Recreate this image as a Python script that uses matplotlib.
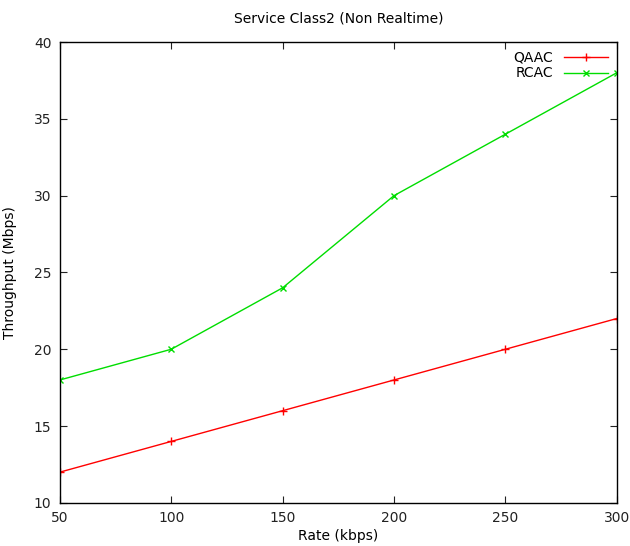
import matplotlib
matplotlib.use("Agg")
import matplotlib.pyplot as plt

# throughput vs rate for the two admission control schemes
rate = [50, 100, 150, 200, 250, 300]
qaac = [12, 14, 16, 18, 20, 22]
rcac = [18, 20, 24, 30, 34, 38]

plt.rcParams['font.family'] = ['DejaVu Sans']
plt.rcParams['font.size'] = 10

fig = plt.figure(figsize=(6.3, 5.46), dpi=100)
ax = fig.add_axes([0.095, 0.079, 0.884, 0.844])

ax.plot(rate, qaac, '-', color='#ff0000', lw=1, marker='+', ms=6, mew=1, label='QAAC')
ax.plot(rate, rcac, '-', color='#00dd00', lw=1, marker='x', ms=5, mew=1, label='RCAC')

ax.set_xlim(50, 300)
ax.set_ylim(10, 40)
ax.set_xticks(rate)
ax.set_yticks([10, 15, 20, 25, 30, 35, 40])
ax.tick_params(direction='in', top=True, right=True, length=5, width=0.8,
               labelsize=10, colors='#222222', pad=6)
for s in ax.spines.values():
    s.set_linewidth(1)

ax.set_title('Service Class2 (Non Realtime)', fontsize=10, pad=14)
ax.set_xlabel('Rate (kbps)', fontsize=10, labelpad=3)
ax.set_ylabel('Throughput (Mbps)', fontsize=10, labelpad=12)

ax.legend(loc='upper right', frameon=False, markerfirst=False, fontsize=10,
          handlelength=3.2, borderaxespad=0.2, labelspacing=0.15, handletextpad=0.8)

fig.savefig('out.png', dpi=100)
